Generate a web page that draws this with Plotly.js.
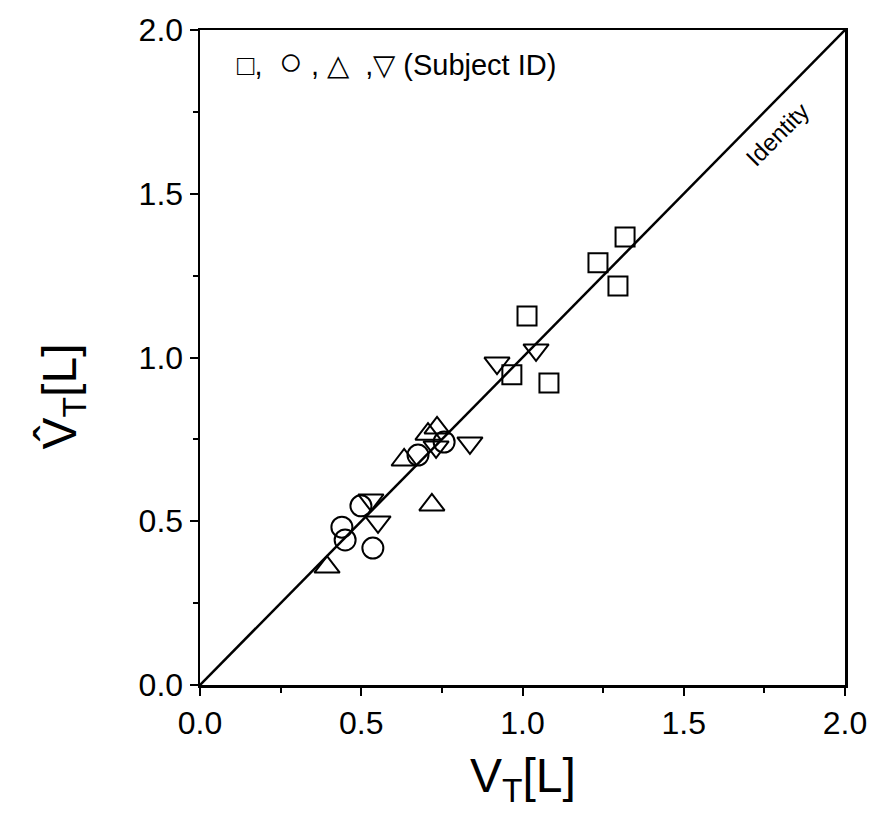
<!DOCTYPE html>
<html>
<head>
<meta charset="utf-8">
<script src="https://cdn.plot.ly/plotly-3.0.1.min.js"></script>
<style>html,body{margin:0;padding:0;background:#fff;}#chart{width:878px;height:814px;}</style>
</head>
<body>
<div id="chart"></div>
<script>
// Subject 1 (squares)
const sqX = [1.318, 1.234, 1.296, 1.014, 0.967, 1.082];
const sqY = [1.368, 1.289, 1.218, 1.127, 0.947, 0.922];
// Subject 2 (circles)
const ciX = [0.440, 0.450, 0.536, 0.499, 0.676, 0.757];
const ciY = [0.482, 0.443, 0.418, 0.547, 0.702, 0.742];
// Subject 3 (up triangles)
const upX = [0.394, 0.633, 0.707, 0.735, 0.719];
const upY = [0.360, 0.687, 0.766, 0.785, 0.550];
// Subject 4 (down triangles)
const dnX = [0.530, 0.552, 0.732, 0.837, 0.921, 1.042];
const dnY = [0.565, 0.498, 0.727, 0.739, 0.983, 1.023];
// Identity line
const idX = [0, 2];
const idY = [0, 2];
const tickVals = [0, 0.5, 1.0, 1.5, 2.0];
const tickText = ["0.0", "0.5", "1.0", "1.5", "2.0"];

const mk = (sym, size) => ({symbol: sym, size: size, color: '#000', line: {color: '#000', width: 2}});
const traces = [
  {x: idX, y: idY, mode: 'lines', line: {color: '#000', width: 2.5}, hoverinfo: 'skip'},
  {x: sqX, y: sqY, mode: 'markers', marker: mk('square-open', 19)},
  {x: ciX, y: ciY, mode: 'markers', marker: mk('circle-open', 21)},
  {x: upX, y: upY, mode: 'markers', marker: mk('triangle-up-open', 22)},
  {x: dnX, y: dnY, mode: 'markers', marker: mk('triangle-down-open', 22)}
];

const axBase = {
  range: [0, 2], showgrid: false, zeroline: false,
  showline: true, linecolor: '#000', linewidth: 2.5, mirror: true,
  ticks: 'outside', ticklen: 8, tickwidth: 2, tickcolor: '#000',
  tickvals: tickVals, ticktext: tickText,
  tickfont: {family: 'Liberation Sans, Arial', size: 32, color: '#000'},
  minor: {ticks: 'outside', ticklen: 5, tickwidth: 2, tickcolor: '#000', dtick: 0.25}
};

const layout = {
  width: 878, height: 814,
  margin: {l: 200, r: 33, t: 30, b: 129},
  paper_bgcolor: '#fff', plot_bgcolor: '#fff',
  showlegend: false,
  xaxis: Object.assign({}, axBase),
  yaxis: Object.assign({}, axBase),
  annotations: [
    {xref: 'paper', yref: 'paper', x: 0.5, y: -0.095, yanchor: 'top', showarrow: false,
     text: 'V<sub>T</sub>[L]', font: {family: 'Liberation Sans, Arial', size: 48, color: '#000'}},
    {xref: 'paper', yref: 'paper', x: -0.213, y: 0.44, xanchor: 'center', showarrow: false, textangle: -90,
     text: 'V\u0302<sub>T</sub>[L]', font: {family: 'Liberation Sans, Arial', size: 48, color: '#000'}},
    {xref: 'paper', yref: 'paper', x: 0.055, y: 0.99, xanchor: 'left', showarrow: false,
     text: '\u25A1,  <span style="font-size:40px">\u25CB</span> , \u25B3  ,\u25BD (Subject ID)', font: {family: 'Liberation Sans, Arial', size: 29, color: '#000'}},
    {x: 1.79, y: 1.68, showarrow: false, textangle: -45,
     text: 'Identity', font: {family: 'Liberation Sans, Arial', size: 24, color: '#000'}}
  ]
};

Plotly.newPlot('chart', traces, layout, {displayModeBar: false, staticPlot: true});
</script>
</body>
</html>
